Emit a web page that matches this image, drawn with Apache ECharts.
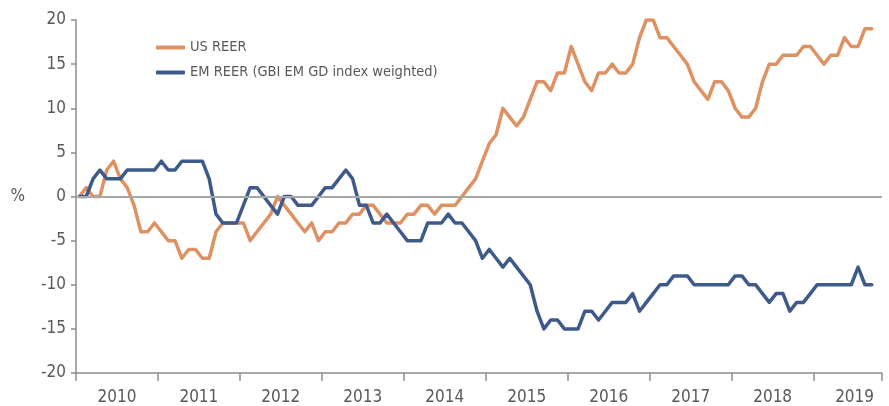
<!DOCTYPE html>
<html>
<head>
<meta charset="utf-8">
<script src="https://cdn.jsdelivr.net/npm/echarts@6/dist/echarts.min.js"></script>
<style>html,body{margin:0;padding:0;background:#fff}#c{width:889px;height:406px}</style>
</head>
<body>
<div id="c"></div>
<script>
// Year tick labels
const years = ['2010','2011','2012','2013','2014','2015','2016','2017','2018','2019'];
// Monthly categories Jan 2010 .. Oct 2019
const categories = [];
years.forEach(function (y) { for (let m = 1; m <= 12; m++) categories.push(y + '-' + (m < 10 ? '0' + m : m)); });
categories.length = 118;

// US REER, % (monthly, Jan 2010 .. Sep 2019)
const usReer = [
  0, 1, 0, 0, 3, 4, 2, 1, -1, -4, -4, -3,
  -4, -5, -5, -7, -6, -6, -7, -7, -4, -3, -3, -3,
  -3, -5, -4, -3, -2, 0, -1, -2, -3, -4, -3, -5,
  -4, -4, -3, -3, -2, -2, -1, -1, -2, -3, -3, -3,
  -2, -2, -1, -1, -2, -1, -1, -1, 0, 1, 2, 4,
  6, 7, 10, 9, 8, 9, 11, 13, 13, 12, 14, 14,
  17, 15, 13, 12, 14, 14, 15, 14, 14, 15, 18, 20,
  20, 18, 18, 17, 16, 15, 13, 12, 11, 13, 13, 12,
  10, 9, 9, 10, 13, 15, 15, 16, 16, 16, 17, 17,
  16, 15, 16, 16, 18, 17, 17, 19, 19
];
// EM REER (GBI EM GD index weighted), %
const emReer = [
  0, 0, 2, 3, 2, 2, 2, 3, 3, 3, 3, 3,
  4, 3, 3, 4, 4, 4, 4, 2, -2, -3, -3, -3,
  -1, 1, 1, 0, -1, -2, 0, 0, -1, -1, -1, 0,
  1, 1, 2, 3, 2, -1, -1, -3, -3, -2, -3, -4,
  -5, -5, -5, -3, -3, -3, -2, -3, -3, -4, -5, -7,
  -6, -7, -8, -7, -8, -9, -10, -13, -15, -14, -14, -15,
  -15, -15, -13, -13, -14, -13, -12, -12, -12, -11, -13, -12,
  -11, -10, -10, -9, -9, -9, -10, -10, -10, -10, -10, -10,
  -9, -9, -10, -10, -11, -12, -11, -11, -13, -12, -12, -11,
  -10, -10, -10, -10, -10, -10, -8, -10, -10
];
const seriesNames = ['US REER', 'EM REER (GBI EM GD index weighted)'];
const seriesColors = ['#DE9163', '#3E5A8B'];

const FONT = "'Liberation Sans Narrow','DejaVu Sans Condensed','Roboto Condensed',sans-serif";
const chart = echarts.init(document.getElementById('c'), null, {renderer: 'canvas'});
chart.setOption({
  animation: false,
  backgroundColor: '#ffffff',
  textStyle: {fontFamily: FONT},
  grid: {left: 76, top: 20, width: 806, height: 353.3},
  legend: {
    data: seriesNames,
    orient: 'vertical',
    left: 151, top: 34,
    icon: 'roundRect',
    itemWidth: 29, itemHeight: 4, itemGap: 8,
    textStyle: {fontFamily: FONT, fontSize: 14.5, color: '#595959', lineHeight: 17}
  },
  xAxis: {
    type: 'category',
    data: categories,
    boundaryGap: true,
    axisLine: {onZero: false, lineStyle: {color: '#8C8C8C', width: 1.5}},
    axisTick: {show: true, length: 8, inside: false, interval: function (i) { return i % 12 === 0; }, lineStyle: {color: '#8C8C8C', width: 1.5}},
    axisLabel: {
      interval: function (i) { return i % 12 === 6; },
      margin: 16,
      formatter: function (v) { return '{y|' + v.slice(0, 4) + '}'; },
      rich: {y: {fontFamily: FONT, fontSize: 17, color: '#595959', padding: [0, 7, 0, 0]}}
    },
    splitLine: {show: false}
  },
  yAxis: {
    type: 'value',
    min: -20, max: 20, interval: 5,
    name: '%', nameLocation: 'middle', nameRotate: 0, nameGap: 51,
    nameTextStyle: {fontFamily: FONT, fontSize: 17, color: '#595959'},
    axisLine: {show: true, lineStyle: {color: '#8C8C8C', width: 1.5}},
    axisTick: {show: true, length: 5, inside: false, lineStyle: {color: '#8C8C8C', width: 1.5}},
    axisLabel: {margin: 10, fontFamily: FONT, fontSize: 17, color: '#595959'},
    splitLine: {show: false}
  },
  series: [
    {
      name: 'zero', type: 'line', data: [], z: 1, silent: true,
      markLine: {silent: true, symbol: 'none', label: {show: false},
        lineStyle: {color: '#A6A6A6', width: 2, type: 'solid'},
        emphasis: {disabled: true},
        data: [{yAxis: 0}]}
    },
    {
      name: seriesNames[0], type: 'line', data: usReer, z: 3,
      symbol: 'none', color: seriesColors[0],
      lineStyle: {width: 3.5, color: seriesColors[0], cap: 'round', join: 'round'}
    },
    {
      name: seriesNames[1], type: 'line', data: emReer, z: 4,
      symbol: 'none', color: seriesColors[1],
      lineStyle: {width: 3.5, color: seriesColors[1], cap: 'round', join: 'round'}
    }
  ]
});
</script>
</body>
</html>
